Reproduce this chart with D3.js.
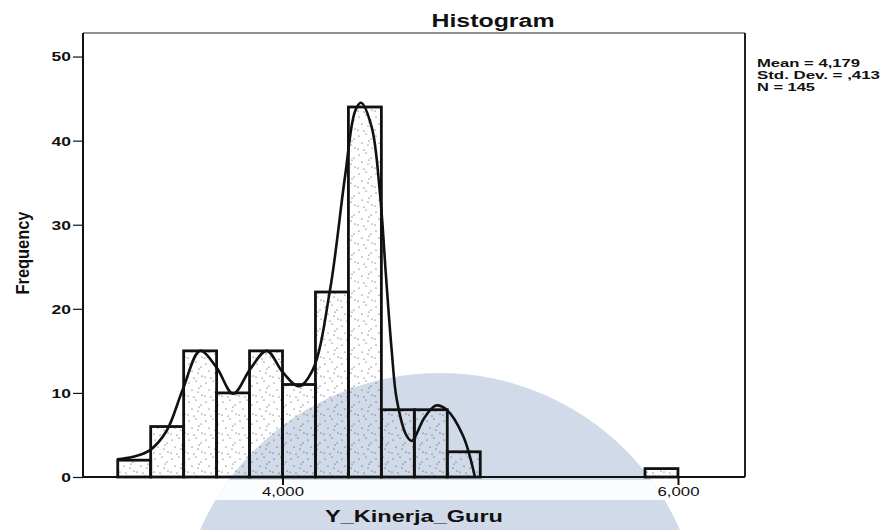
<!DOCTYPE html>
<html>
<head>
<meta charset="utf-8">
<script src="https://cdn.jsdelivr.net/npm/d3@7"></script>
<style>
  html, body { margin: 0; padding: 0; background: #fff; }
  svg { display: block; font-family: "Liberation Sans", Arial, sans-serif; }
</style>
</head>
<body>
<svg id="chart" width="882" height="530"></svg>
<script>
// Histogram bins of Y_Kinerja_Guru (bin width 1/6)
const binStart  = [3.1667, 3.3333, 3.5, 3.6667, 3.8333, 4.0, 4.1667, 4.3333, 4.5, 4.6667, 4.8333, 5.8333];
const binEnd    = [3.3333, 3.5, 3.6667, 3.8333, 4.0, 4.1667, 4.3333, 4.5, 4.6667, 4.8333, 5.0, 6.0];
const frequency = [2, 6, 15, 10, 15, 11, 22, 44, 8, 8, 3, 1];

// Smoothed frequency line drawn over the bars
const curveX = [3.163, 3.244, 3.330, 3.414, 3.497, 3.583, 3.667, 3.750, 3.836, 3.920, 4.003, 4.083,
                4.154, 4.240, 4.316, 4.367, 4.397, 4.451, 4.493, 4.523, 4.552, 4.578, 4.628, 4.655,
                4.716, 4.776, 4.830, 4.913, 4.973];
const curveY = [2.1, 2.4, 3.2, 5.5, 10.5, 15.0, 13.0, 9.9, 12.8, 15.0, 12.4, 10.8,
                12.8, 22.2, 35.7, 43.5, 44.5, 41.6, 33.7, 24.0, 15.1, 9.2, 4.9, 4.3,
                7.0, 8.5, 8.0, 4.9, 0.0];

const yTicks = [0, 10, 20, 30, 40, 50];
const xTicks = [4, 6];
const xTickLabels = ["4,000", "6,000"];
const statLabels = ["Mean = 4,179", "Std. Dev. = ,413", "N = 145"];
const statWidths = [103, 123, 58];

const svg = d3.select("#chart");

const plotLeft = 83, plotRight = 745, plotTop = 33, plotBottom = 477;
const x = d3.scaleLinear().domain([2.991, 6.339]).range([plotLeft, plotRight]);
const y = d3.scaleLinear().domain([0, 52.8]).range([plotBottom, plotTop]);

// Watermark disc in the background, split by a white stripe under the axis
const defs = svg.append("defs");
defs.append("clipPath").attr("id", "wmClip")
  .append("circle").attr("cx", 440).attr("cy", 635).attr("r", 262);
const wm = svg.append("g").attr("clip-path", "url(#wmClip)");
wm.append("rect").attr("x", 150).attr("y", 360).attr("width", 600).attr("height", 170).attr("fill", "#d0dae9");
wm.append("rect").attr("x", 150).attr("y", 480).attr("width", 600).attr("height", 20).attr("fill", "#fbfcfd");

// Stipple fill used by the bars
const pat = defs.append("pattern").attr("id", "stipple")
  .attr("patternUnits", "userSpaceOnUse").attr("width", 17).attr("height", 19);
const dots = [[2,3],[9,1],[14,6],[5,10],[11,12],[1,16],[15,15],[7,17],[12,8]];
pat.selectAll("circle").data(dots).join("circle")
  .attr("cx", d => d[0]).attr("cy", d => d[1]).attr("r", 0.6).attr("fill", "#333");

// Bars
svg.append("g").selectAll("rect").data(frequency).join("rect")
  .attr("x", (d, i) => x(binStart[i]))
  .attr("y", d => y(d))
  .attr("width", (d, i) => x(binEnd[i]) - x(binStart[i]))
  .attr("height", d => y(0) - y(d))
  .attr("fill", "url(#stipple)")
  .attr("stroke", "#111")
  .attr("stroke-width", 2.8);

// Frequency line
const line = d3.line()
  .x((d, i) => x(curveX[i]))
  .y(d => y(d))
  .curve(d3.curveCatmullRom.alpha(0.5));
svg.append("path").datum(curveY)
  .attr("d", line)
  .attr("fill", "none")
  .attr("stroke", "#111")
  .attr("stroke-width", 2.6)
  .attr("stroke-linejoin", "round");

// Plot frame
svg.append("line").attr("x1", plotLeft).attr("x2", plotRight).attr("y1", plotTop).attr("y2", plotTop)
  .attr("stroke", "#222").attr("stroke-width", 1.2);
svg.append("line").attr("x1", plotRight).attr("x2", plotRight).attr("y1", plotTop).attr("y2", plotBottom)
  .attr("stroke", "#222").attr("stroke-width", 2);
svg.append("line").attr("x1", plotLeft).attr("x2", plotLeft).attr("y1", plotTop).attr("y2", plotBottom)
  .attr("stroke", "#111").attr("stroke-width", 2);
svg.append("line").attr("x1", plotLeft).attr("x2", plotRight).attr("y1", plotBottom).attr("y2", plotBottom)
  .attr("stroke", "#111").attr("stroke-width", 2);

// Y axis
const yAxis = svg.append("g").attr("transform", `translate(${plotLeft},0)`)
  .call(d3.axisLeft(y).tickValues(yTicks).tickSize(10).tickPadding(2).tickFormat(d3.format("d")));
yAxis.select(".domain").remove();
yAxis.selectAll(".tick line").attr("stroke", "#111").attr("stroke-width", 1.2);
yAxis.selectAll(".tick text")
  .attr("font-size", 12).attr("font-weight", "bold").attr("fill", "#111")
  .attr("font-family", "Liberation Sans, Arial, sans-serif")
  .attr("dy", "0.37em")
  .attr("textLength", d => String(d).length * 9.7)
  .attr("lengthAdjust", "spacingAndGlyphs");

// X axis
const xAxis = svg.append("g").attr("transform", `translate(0,${plotBottom})`)
  .call(d3.axisBottom(x).tickValues(xTicks).tickSize(8).tickPadding(2)
    .tickFormat((d, i) => xTickLabels[i]));
xAxis.select(".domain").remove();
xAxis.selectAll(".tick line").attr("stroke", "#111").attr("stroke-width", 2);
xAxis.selectAll(".tick text")
  .attr("font-size", 12).attr("fill", "#111")
  .attr("font-family", "Liberation Sans, Arial, sans-serif")
  .attr("textLength", 42)
  .attr("lengthAdjust", "spacingAndGlyphs");

// Title
svg.append("text").attr("x", 493).attr("y", 27)
  .attr("text-anchor", "middle").attr("font-size", 18).attr("font-weight", "bold")
  .attr("fill", "#111").attr("textLength", 123).attr("lengthAdjust", "spacingAndGlyphs")
  .text("Histogram");

// Axis titles
svg.append("text").attr("x", 414).attr("y", 522)
  .attr("text-anchor", "middle").attr("font-size", 16).attr("font-weight", "bold")
  .attr("fill", "#111").attr("textLength", 178).attr("lengthAdjust", "spacingAndGlyphs")
  .text("Y_Kinerja_Guru");

svg.append("text")
  .attr("transform", "translate(29,253) rotate(-90) scale(1,1.37)")
  .attr("text-anchor", "middle").attr("font-size", 14).attr("font-weight", "bold")
  .attr("fill", "#111").attr("textLength", 83).attr("lengthAdjust", "spacingAndGlyphs")
  .text("Frequency");

// Summary statistics
svg.append("g").selectAll("text").data(statLabels).join("text")
  .attr("x", 757).attr("y", (d, i) => 66.5 + i * 12.4)
  .attr("font-size", 11.5).attr("font-weight", "bold").attr("fill", "#111")
  .attr("textLength", (d, i) => statWidths[i]).attr("lengthAdjust", "spacingAndGlyphs")
  .text(d => d);
</script>
</body>
</html>
